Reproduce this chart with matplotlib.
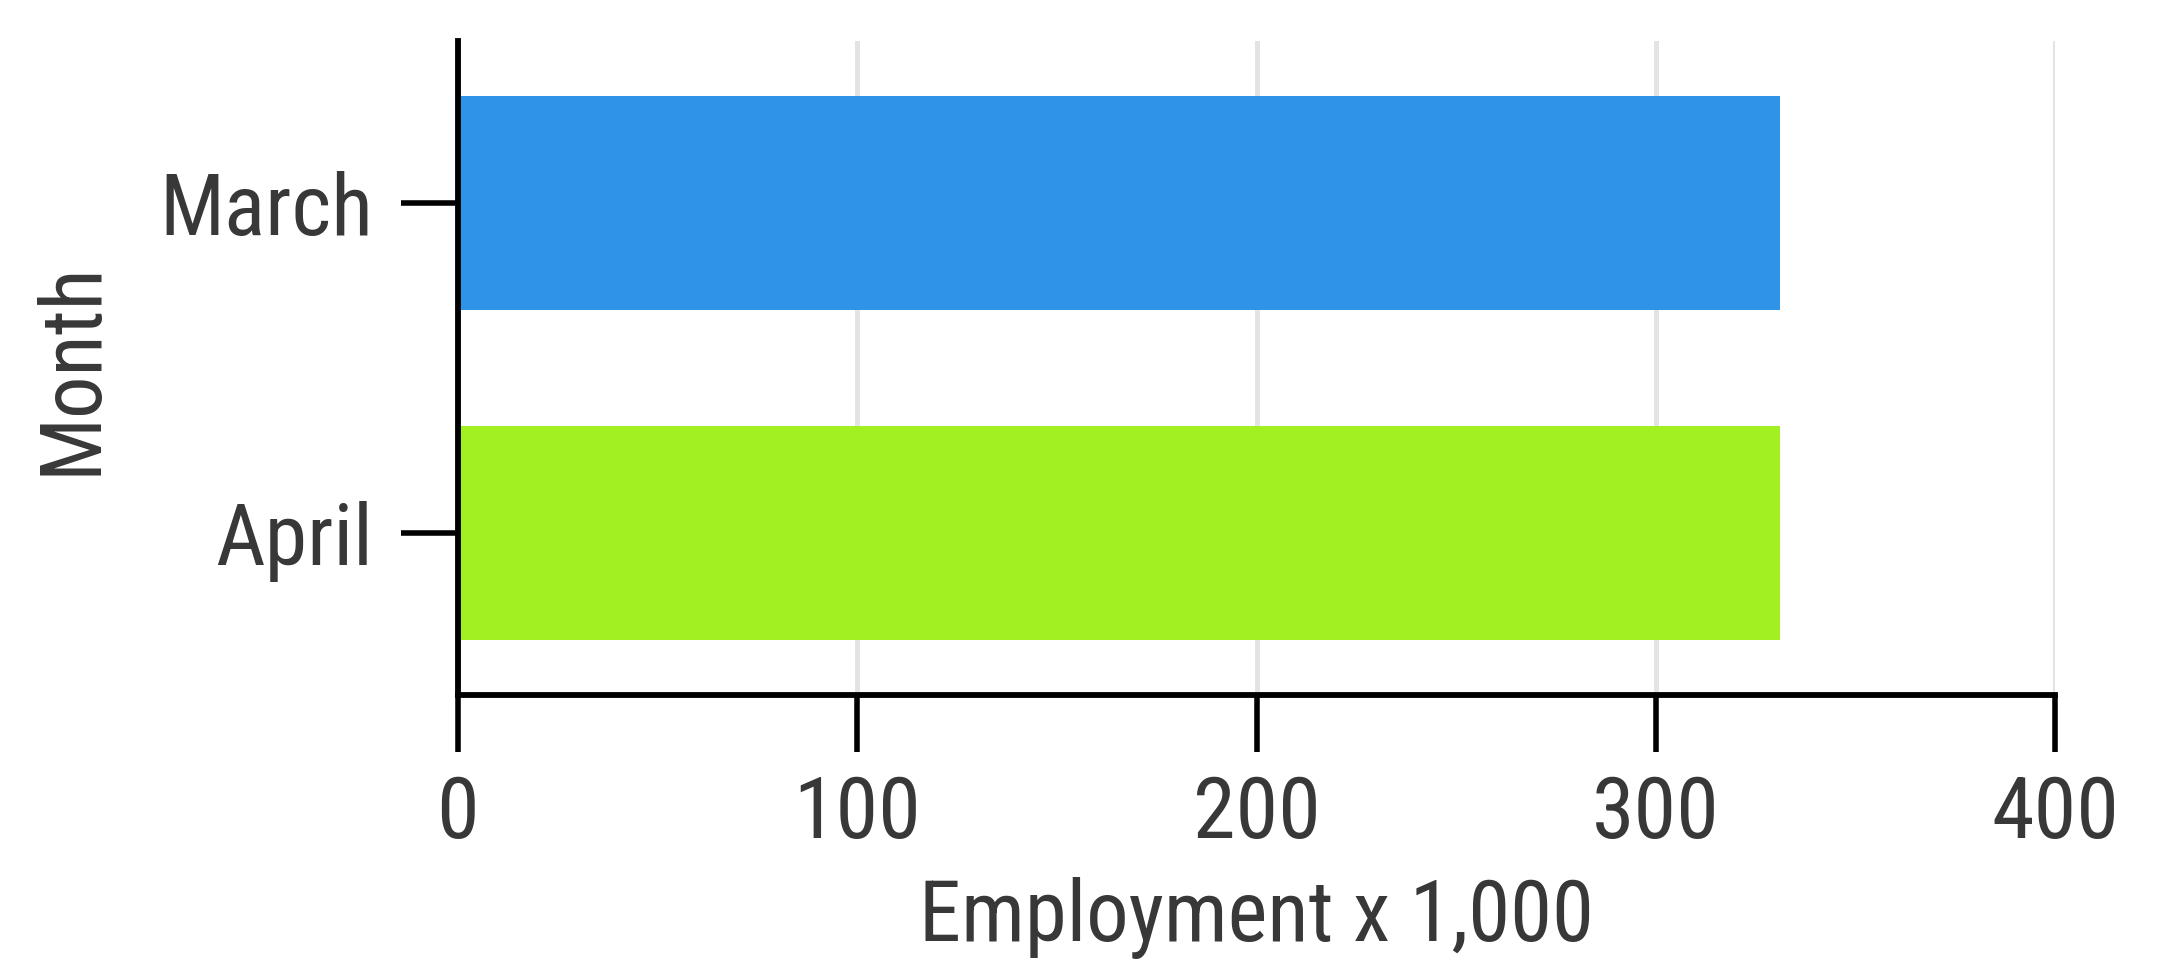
import matplotlib.pyplot as plt

months = ["March", "April"]
employment = [331, 331]
bar_colors = ["#2f93e8", "#a3f022"]
x_ticks = [0, 100, 200, 300, 400]

plt.rcParams['font.family'] = ['Roboto Condensed', 'Roboto', 'DejaVu Sans']
text_col = "#383838"

fig = plt.figure(figsize=(21.64, 9.63), dpi=100)
ax = fig.add_axes([0.2116, 0.2783, 0.7381, 0.6791])

ypos = list(range(len(months)))[::-1]
ax.barh(ypos, employment, height=0.65, color=bar_colors, zorder=2)

ax.set_xlim(0, 400)
ax.set_ylim(-0.49, 1.49)
ax.set_xticks(x_ticks)
ax.set_xticklabels([str(t) for t in x_ticks])
ax.set_yticks(ypos)
ax.set_yticklabels(months)

ax.grid(axis="x", color="#e3e3e3", linewidth=3.6, zorder=0)
ax.set_axisbelow(True)

for s in ["top", "right"]:
    ax.spines[s].set_visible(False)
for s in ["left", "bottom"]:
    ax.spines[s].set_linewidth(4.2)
    ax.spines[s].set_color("black")
    ax.spines[s].set_zorder(3)

ax.tick_params(axis="both", length=41, width=4, color="black",
               labelsize=62, labelcolor=text_col)
ax.tick_params(axis="y", pad=20)
ax.tick_params(axis="x", pad=16)

ax.set_xlabel("Employment x 1,000", fontsize=61, color=text_col, labelpad=16)
ax.set_ylabel("Month", fontsize=61, color=text_col, labelpad=34)

fig.savefig("out.png", dpi=100, facecolor="white")
